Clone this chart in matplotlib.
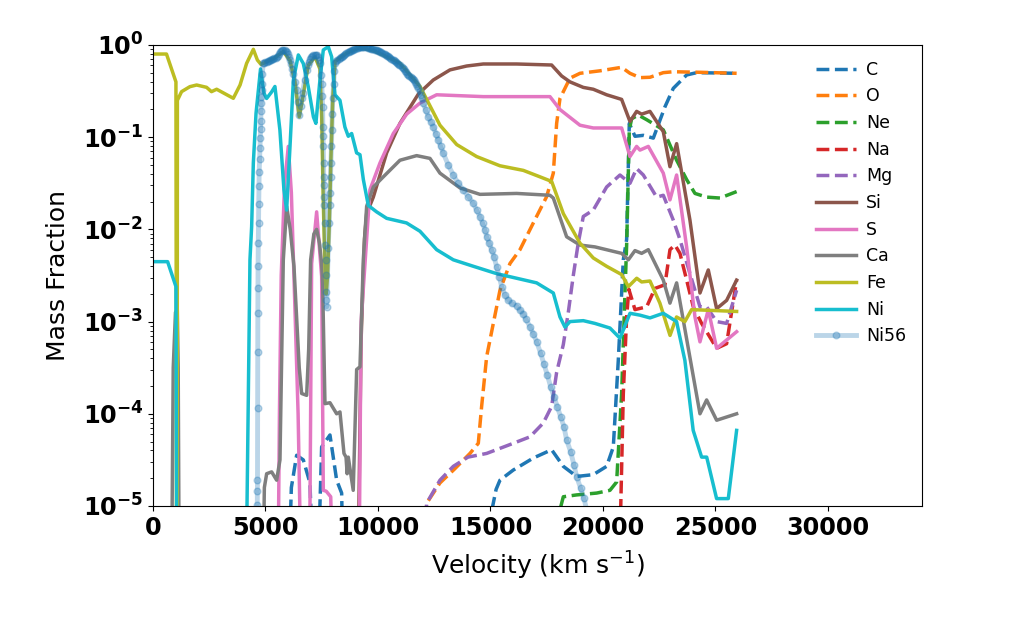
import numpy as np
import matplotlib
matplotlib.use("Agg")
import matplotlib.pyplot as plt

# velocities in km/s, abundances as log10(mass fraction); -6 means off the bottom of the plot
c_vel = [0, 6000, 6150, 6385, 6681, 6977, 7150, 7300, 7496, 7866, 8163, 8385, 8480, 14950, 15100, 15250,
         15422, 16015, 16904, 17718, 18237, 18830, 19570, 20163, 20459, 20681, 20830, 20904, 21052, 21170,
         21422, 21792, 22237, 22756, 23126, 23719, 24163, 25941]
c_log = [-6, -6, -4.8, -4.45, -4.50, -4.75, -6, -6, -4.36, -4.23, -4.72, -4.86, -6, -6, -5.0, -4.82,
         -4.72, -4.61, -4.48, -4.39, -4.57, -4.68, -4.66, -4.57, -4.36, -3.42, -2.69, -2.33, -2.11, -0.85,
         -0.99, -0.98, -1.01, -0.67, -0.47, -0.325, -0.30, -0.307]

o_vel = [0, 12000, 12163, 12755, 13400, 14089, 14459, 14607, 14830, 15126, 15422, 15867, 16311, 16904,
         17496, 17793, 17941, 18089, 18533, 18978, 19867, 20830, 21200, 21644, 22089, 22681, 23126, 24311, 25941]
o_log = [-6, -6, -4.97, -4.75, -4.6, -4.43, -4.32, -3.92, -3.38, -3.02, -2.66, -2.37, -2.22, -1.93,
         -1.645, -1.39, -0.85, -0.58, -0.36, -0.307, -0.28, -0.242, -0.307, -0.354, -0.35, -0.30, -0.29, -0.296, -0.307]

ne_vel = [0, 18000, 18080, 18237, 18830, 19719, 20311, 20607, 20830, 20978, 21060, 21170, 21274, 21570,
          21941, 22681, 23274, 23719, 24089, 24607, 25200, 25941]
ne_log = [-6, -6, -5.05, -4.90, -4.88, -4.86, -4.83, -4.74, -3.78, -2.69, -2.11, -0.92, -0.80, -0.76,
          -0.81, -0.92, -1.25, -1.46, -1.61, -1.65, -1.66, -1.59]

na_vel = [0, 20700, 20800, 20904, 21052, 21150, 21422, 21941, 22311, 22756, 22978, 23200, 23422, 23719,
          24015, 24385, 25052, 25496, 25941]
na_log = [-6, -6, -4.9, -3.78, -2.95, -2.65, -2.87, -2.84, -2.64, -2.60, -2.22, -2.17, -2.26, -2.55,
          -2.84, -3.02, -3.29, -3.24, -2.55]

mg_vel = [0, 11950, 12163, 12755, 13348, 14000, 14830, 16015, 16756, 17348, 17718, 17941, 18237, 18459,
          18681, 18900, 19126, 19570, 20163, 20756, 21200, 21496, 21793, 22385, 22681, 23126, 23422, 23867,
          24311, 24607, 25052, 25497, 25941]
mg_log = [-6, -6, -4.97, -4.72, -4.57, -4.47, -4.43, -4.32, -4.25, -4.10, -3.92, -3.55, -3.25, -2.90,
          -2.50, -2.15, -1.86, -1.79, -1.54, -1.41, -1.50, -1.34, -1.41, -1.65, -1.63, -1.90, -2.11, -2.48,
          -2.84, -2.84, -3.00, -3.02, -2.66]

si_vel = [0, 9100, 9250, 9400, 9496, 9792, 10385, 10977, 11800, 12455, 13200, 13940, 14680, 16163, 17718,
          18163, 18533, 19126, 19570, 20163, 20829, 21200, 21496, 21718, 22088, 22681, 22977, 23274, 23866,
          24311, 24681, 25052, 25496, 25940]
si_log = [-6, -6, -3.2, -2.1, -1.83, -1.65, -1.17, -0.85, -0.53, -0.38, -0.27, -0.228, -0.206, -0.206, -0.217,
          -0.336, -0.40, -0.46, -0.48, -0.54, -0.59, -0.83, -0.72, -0.75, -0.72, -0.94, -1.32, -1.07, -1.90,
          -2.69, -2.44, -2.86, -2.77, -2.55]

s_vel = [0, 5550, 5620, 5700, 5850, 6014, 6150, 6266, 6450, 6600, 6950, 7052, 7274, 7496, 7570, 7700,
         7900, 8015, 9150, 9250, 9644, 10088, 10681, 11274, 11866, 12607, 14681, 17644, 18088, 18977,
         19570, 20829, 21200, 21496, 21644, 22015, 22681, 22977, 23274, 23718, 24089, 24311, 24681, 25052,
         25496, 25940]
s_log = [-6, -6, -4.0, -2.5, -1.5, -1.10, -1.6, -2.51, -4.0, -6, -6, -2.37, -1.81, -2.51, -4.83, -4.84,
         -4.90, -6, -6, -3.0, -1.57, -1.28, -0.96, -0.75, -0.63, -0.54, -0.56, -0.56, -0.70, -0.87,
         -0.90, -0.90, -1.21, -1.10, -1.14, -1.10, -1.39, -1.68, -1.41, -2.19, -2.95, -3.22, -2.87, -3.29,
         -3.20, -3.11]

ca_vel = [0, 820, 900, 1000, 1080, 1120, 1170, 4880, 4950, 5052, 5274, 5496, 5644, 5792, 5941, 6100, 6266,
          6500, 6607, 6830, 6920, 7007, 7150, 7274, 7400, 7496, 7540, 7644, 7866, 8163, 8311, 8489, 8580,
          8630, 8680, 8900, 9052, 9200, 9348, 9496, 9793, 10237, 10977, 11718, 12311, 12755, 13644, 14533,
          16163, 17644, 17793, 18385, 18978, 19645, 20830, 21126, 21422, 21718, 22015, 22681, 22977, 23274,
          24311, 24607, 25052, 25940]
ca_log = [-6, -6, -3.5, -2.9, -2.87, -3.5, -6, -6, -4.8, -4.65, -4.63, -4.72, -4.50, -2.33, -1.75, -2.0, -2.4,
          -3.5, -3.78, -3.80, -3.3, -2.33, -2.05, -2.0, -2.15, -2.37, -2.6, -3.89, -3.88, -4.0, -3.98, -4.43, -4.47,
          -4.65, -4.47, -4.83, -3.52, -3.49, -2.33, -1.75, -1.54, -1.43, -1.25, -1.20, -1.23, -1.39, -1.55, -1.62,
          -1.61, -1.63, -1.66, -2.08, -2.17, -2.19, -2.26, -2.33, -2.23, -2.26, -2.22, -2.55, -2.80, -2.58,
          -4.0, -3.85, -4.07, -4.0]

fe_vel = [0, 600, 1020, 1050, 1075, 1085, 1270, 1640, 1940, 2380, 2600, 2830, 3570, 3870, 4160, 4460, 4640,
          4800, 5350, 5790, 6090, 6310, 6500, 6680, 6900, 7200, 7420, 7500, 7560, 7640, 7700, 7760, 7840,
          7900, 7990, 8090, 8600, 9200, 9790, 10680, 10980, 11870, 12755, 13500, 14385, 15420, 16460, 17200,
          17720, 18240, 18980, 19570, 20160, 20830, 21130, 21500, 21720, 22090, 22530, 22980, 23270, 23640,
          23940, 25940]
fe_log = [-0.098, -0.098, -0.40, -6, -6, -0.60, -0.506, -0.452, -0.434, -0.459, -0.506, -0.48, -0.578, -0.434,
          -0.20, -0.047, -0.163, -0.21, -0.15, -0.07, -0.17, -0.40, -0.78, -0.54, -0.22, -0.13, -0.26, -0.8,
          -1.6, -2.4, -2.7, -2.5, -1.9, -1.3, -0.58, -0.18, -0.09, -0.03, -0.06, -0.16, -0.20, -0.45, -0.87,
          -1.08, -1.21, -1.31, -1.36, -1.43, -1.48, -1.83, -2.15, -2.31, -2.40, -2.49, -2.62, -2.53, -2.57,
          -2.56, -2.80, -3.15, -2.95, -3.0, -2.87, -2.89]

ni_vel = [0, 650, 1020, 1060, 4130, 4310, 4385, 4460, 4580, 4780, 4930, 5050, 5270, 5420, 5640, 5820, 5940,
          6090, 6240, 6460, 6680, 6900, 7130, 7240, 7420, 7570, 7790, 7940, 8090, 8310, 8530, 8680, 8830,
          9050, 9200, 9350, 9570, 9940, 10385, 11270, 11866, 12607, 13348, 14237, 15274, 16163, 17052, 17793,
          18089, 18311, 18533, 19126, 19645, 20311, 20755, 21200, 21640, 22090, 22680, 23270, 23640, 24010,
          24385, 24610, 25050, 25570, 25940]
ni_log = [-2.35, -2.35, -2.62, -6, -6, -2.33, -1.97, -1.28, -0.74, -0.26, -0.52, -0.58, -0.51, -0.45, -0.92,
          -1.57, -1.79, -1.10, -0.38, -0.108, -0.20, -0.45, -0.78, -0.85, -0.38, -0.054, -0.018, -0.127, -0.54,
          -0.60, -0.89, -0.99, -0.96, -1.17, -1.19, -1.46, -1.74, -1.81, -1.88, -1.93, -2.02, -2.22, -2.33,
          -2.40, -2.48, -2.53, -2.58, -2.69, -2.95, -3.06, -3.0, -2.99, -3.02, -3.07, -3.18, -2.91, -2.93,
          -2.96, -2.91, -3.0, -3.42, -4.18, -4.47, -4.47, -4.92, -4.92, -4.18]

# Ni56 zones are packed closely below ~12500 km/s, so the markers merge into a dark band there
ni56_vel = [4630, 4635, 4640, 4645, 4650, 4655, 4660, 4665, 4670, 4680, 4690, 4700, 4710, 4720, 4740, 4760,
            4770, 4780, 4790, 4800, 4810, 4820, 4830, 4840, 4860, 4900,
            4950, 5000, 5050, 5100, 5150, 5200, 5250, 5300, 5350, 5400, 5450, 5500, 5550, 5600, 5650, 5700,
            5750, 5800, 5850, 5900, 5950, 6000, 6050, 6100, 6150, 6200,
            6240, 6310, 6385, 6440, 6500, 6560, 6610, 6650, 6740, 6830,
            6880, 6930, 6980, 7030, 7080, 7130, 7180, 7230, 7280, 7330, 7380, 7420,
            7470, 7500, 7520, 7540, 7550, 7560, 7570, 7580, 7590, 7600, 7610, 7620, 7640, 7660, 7680, 7690,
            7700, 7710, 7720, 7790, 7830, 7850, 7870, 7890, 7910, 7930, 7950, 7970, 7990, 8030, 8060,
            8100, 8150, 8200, 8250, 8300, 8350, 8400, 8450, 8500, 8550, 8600, 8650, 8700, 8750, 8800, 8850,
            8900, 8950, 9000, 9050, 9100, 9150, 9200, 9250, 9300, 9350, 9400, 9450, 9500, 9550, 9600, 9650,
            9700, 9750, 9800, 9850, 9900, 9950, 10000, 10050, 10100, 10150, 10200, 10250, 10300, 10350, 10400,
            10450, 10500, 10550, 10600, 10650, 10700, 10750, 10800, 10850, 10900, 10950, 11000, 11050, 11100,
            11150, 11200, 11250, 11300, 11350, 11400, 11450, 11500, 11550, 11600, 11650, 11700, 11750, 11800,
            11850, 11900, 11950,
            12014, 12120, 12237, 12350, 12459, 12570, 12681, 12790, 12904, 13126, 13348, 13570, 13793, 14015,
            14237, 14385, 14533, 14652, 14755, 14830, 14948, 15052, 15155, 15274, 15393, 15496, 15645, 15793,
            15940, 16163, 16311, 16459, 16578, 16756, 16904, 17052, 17230, 17378, 17526, 17674, 17822, 17970,
            18118, 18266, 18385, 18563, 18711, 18830, 19008, 19155, 19274]
ni56_log = [-5.1, -4.99, -4.84, -4.72, -3.94, -3.33, -2.91, -2.64, -2.40, -2.15, -1.93, -1.72, -1.53, -1.38,
            -1.24, -1.12, -1.01, -0.91, -0.82, -0.72, -0.63, -0.56, -0.49, -0.42, -0.31, -0.20,
            -0.19, -0.185, -0.18, -0.175, -0.17, -0.165, -0.16, -0.155, -0.15, -0.145, -0.14, -0.135, -0.12,
            -0.10, -0.08, -0.065, -0.055, -0.05, -0.055, -0.065, -0.08, -0.10, -0.13, -0.165, -0.21, -0.26,
            -0.31, -0.40, -0.49, -0.62, -0.76, -0.66, -0.58, -0.52, -0.38, -0.27,
            -0.22, -0.18, -0.15, -0.13, -0.12, -0.11, -0.105, -0.105, -0.11, -0.13, -0.16, -0.20,
            -0.32, -0.42, -0.55, -0.67, -0.89, -0.99, -1.10, -1.28, -1.43, -1.52, -1.65, -1.74, -1.93, -2.17,
            -2.33, -2.49, -2.68, -2.77, -2.84, -2.20, -1.93, -1.74, -1.60, -1.43, -1.28, -1.10, -0.92, -0.75,
            -0.58, -0.42, -0.28,
            -0.19, -0.175, -0.165, -0.155, -0.145, -0.135, -0.125, -0.115, -0.105, -0.095, -0.085, -0.078,
            -0.072, -0.066, -0.061, -0.057, -0.053, -0.048, -0.043, -0.037, -0.031, -0.026, -0.022, -0.02,
            -0.018, -0.018, -0.02, -0.023, -0.026, -0.029, -0.033, -0.037, -0.041, -0.045, -0.048, -0.051,
            -0.054, -0.058, -0.063, -0.068, -0.073, -0.079, -0.086, -0.093, -0.1, -0.107, -0.114, -0.122,
            -0.13, -0.139, -0.148, -0.158, -0.167, -0.176, -0.185, -0.194, -0.203, -0.212, -0.222, -0.235,
            -0.25, -0.265, -0.28, -0.295, -0.31, -0.322, -0.334, -0.346, -0.358, -0.37, -0.385, -0.40, -0.42,
            -0.44, -0.47, -0.50, -0.54, -0.58,
            -0.633, -0.70, -0.777, -0.83, -0.886, -0.96, -1.03, -1.10, -1.175, -1.302, -1.410, -1.500, -1.573,
            -1.645, -1.717, -1.790, -1.862, -1.934, -2.007, -2.079, -2.151, -2.223, -2.296, -2.404, -2.513,
            -2.621, -2.711, -2.766, -2.802, -2.831, -2.874, -2.918, -2.975, -3.055, -3.134, -3.218, -3.344,
            -3.460, -3.579, -3.706, -3.814, -3.923, -4.031, -4.140, -4.284, -4.411, -4.555, -4.682, -4.808,
            -4.917, -5.04]

dashed = [("C", c_vel, c_log, "tab:blue"),
          ("O", o_vel, o_log, "tab:orange"),
          ("Ne", ne_vel, ne_log, "tab:green"),
          ("Na", na_vel, na_log, "tab:red"),
          ("Mg", mg_vel, mg_log, "tab:purple")]
solid = [("Si", si_vel, si_log, "tab:brown"),
         ("S", s_vel, s_log, "tab:pink"),
         ("Ca", ca_vel, ca_log, "tab:gray"),
         ("Fe", fe_vel, fe_log, "tab:olive"),
         ("Ni", ni_vel, ni_log, "tab:cyan")]

fig = plt.figure(figsize=(10.24, 6.32), dpi=100)
ax = fig.add_axes([0.1494, 0.1994, 0.751, 0.7294])

for name, vel, logx, col in dashed:
    ax.plot(vel, 10 ** np.array(logx), "--", color=col, lw=2.5, label=name)
for name, vel, logx, col in solid:
    ax.plot(vel, 10 ** np.array(logx), "-", color=col, lw=2.5, label=name)
ax.plot(ni56_vel, 10 ** np.array(ni56_log), "-o", color="tab:blue", alpha=0.3,
        lw=3.5, markersize=4.8, label="Ni56")

ax.set_yscale("log")
ax.set_xlim(0, 34180)
ax.set_ylim(1e-5, 1)
ax.set_xticks([0, 5000, 10000, 15000, 20000, 25000, 30000])
ax.tick_params(labelsize=17.3)
for lab in ax.get_xticklabels() + ax.get_yticklabels():
    lab.set_fontweight("bold")
ax.set_xlabel("Velocity (km s$^{-1}$)", fontsize=18, labelpad=7)
ax.set_ylabel("Mass Fraction", fontsize=18, labelpad=9)
ax.legend(loc="upper right", frameon=False, fontsize=12.5, handlelength=2.3,
          handletextpad=0.6, labelspacing=0.5)

fig.savefig("out.png", dpi=100)
